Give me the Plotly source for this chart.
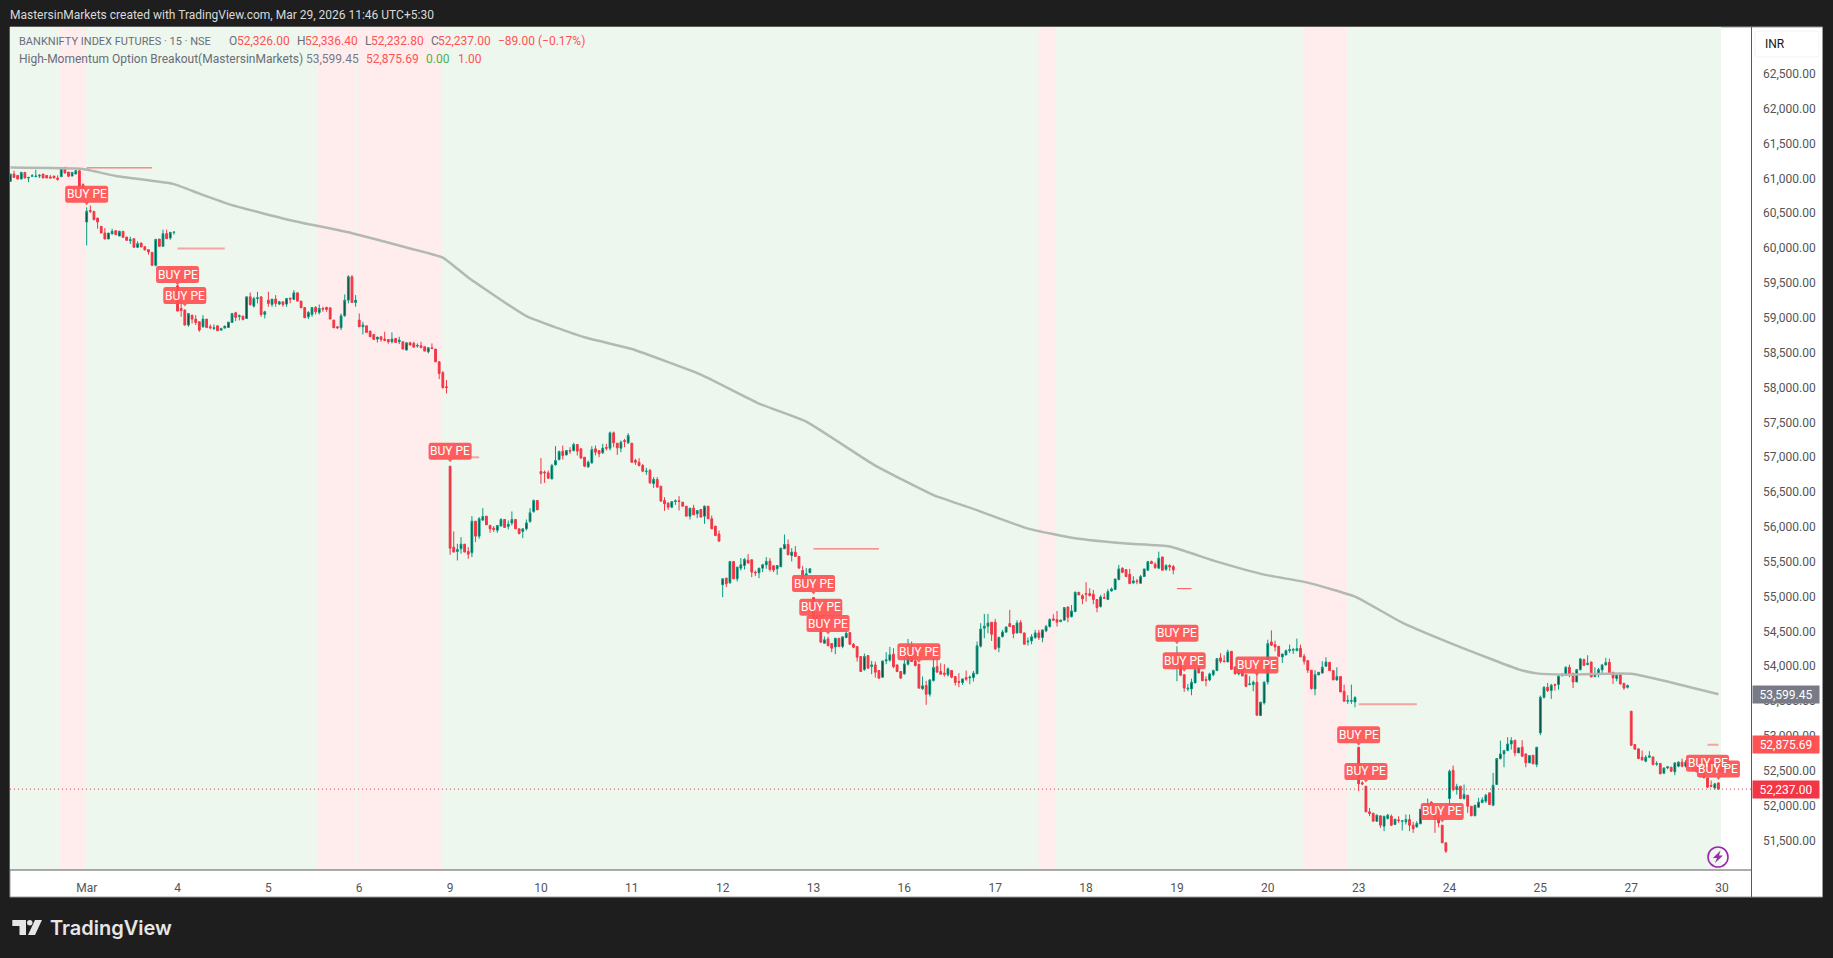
import plotly.graph_objects as go

W, H = 1833, 958

TICK_BARS = [0, 25, 50, 75, 100, 125, 150, 175, 200, 225, 250, 275, 300, 325, 350, 375, 400, 425, 450]
TICK_DAYS = ["Mar", "4", "5", "6", "9", "10", "11", "12", "13", "16", "17", "18", "19", "20", "23", "24", "25", "27", "30"]
PRICE_TICKS = [51500 + 500 * k for k in range(23)]

OPENS = [
60957,61062,61043,60990,61086,61005,61030,61024,61033,61062,61043,61020,61033,61005,61024,61158,61091,61033,61062,61110,60909,
60374,60541,60527,60431,60312,60216,60130,60207,60250,60173,60240,60159,60106,60135,60011,60073,60020,59977,59939,59752,60130,60025,60207,60144,60226,
59459,59134,59110,58895,59038,58981,58943,58871,58981,58871,58847,58885,58823,58852,58861,58933,59072,59019,59024,58990,59301,59167,59277,59301,59048,
59253,59191,59268,59196,59229,59196,59282,59263,59358,59239,59148,59014,59048,59148,59076,59134,59148,59143,58967,58871,58857,59029,59253,59588,59220,
58967,58871,58885,58809,58761,58694,58728,58694,58689,58656,58704,58656,58656,58536,58641,58632,58594,58598,58584,58512,58570,58551,58369,58211,58010,
56871,55709,55647,55686,55752,55647,55628,56082,55867,56097,56154,56020,55982,55953,56011,56106,56006,56054,56106,55972,55934,55972,56078,56221,56379,
56794,56785,56775,56689,56890,56967,57086,57033,57096,57096,57182,57120,57000,56861,56919,57120,57096,57062,57139,57129,57349,57201,57129,57239,57206,
57201,56952,56928,56880,56794,56809,56622,56680,56584,56379,56340,56283,56364,56374,56355,56297,56154,56269,56187,56250,56154,56297,56116,56011,55896,
55169,55265,55198,55504,55255,55408,55446,55523,55528,55351,55341,55408,55456,55509,55442,55399,55427,55686,55748,55590,55638,55576,55375,55303,55341,
54986,54713,54642,54331,54393,54326,54278,54402,54283,54412,54484,54316,54283,54140,53953,54154,53996,54020,53939,53843,54077,54087,54173,54020,53925,
53891,54030,54283,54077,54030,53676,53724,53599,53795,53996,53925,53901,53877,53939,53853,53781,53767,53838,53834,53838,53891,54288,54546,54575,54632,
54632,54269,54426,54489,54613,54584,54479,54627,54479,54350,54364,54412,54479,54412,54508,54570,54680,54670,54642,54661,54852,54713,54785,55062,55014,
55043,55043,55033,54957,54857,54986,54957,55081,55100,55244,55406,55387,55320,55196,55225,55191,55287,55378,55502,55464,55406,55569,55392,55445,55430,
54062,54096,53880,53675,53675,53761,53976,53919,53809,53804,53880,53938,54120,54076,54062,54215,53990,53890,53962,53880,53737,53737,53771,53293,53474,
53775,54349,54311,54287,54134,54163,54225,54230,54225,54258,54143,54081,53943,53675,53876,53904,54000,54057,53938,53804,53852,53642,53498,53498,53488,
52838,52327,52279,51911,51892,51777,51854,51706,51816,51849,51730,51796,51777,51768,51801,51720,51696,51739,52007,51882,52050,51892,51825,51720,51467,
52102,52509,52231,52279,52102,52150,51992,51854,51978,52045,52064,52184,52007,52303,52676,52743,52791,52886,52939,52757,52839,52743,52614,52724,52590,
53044,53555,53699,53651,53737,53737,53871,53880,53986,53900,53775,53952,54096,54024,54062,53852,53880,53947,54019,54057,53914,53823,53881,53756,53699,
53355,52877,52815,52695,52638,52695,52700,52595,52604,52466,52542,52552,52485,52566,52624,52566,52590,52581,52542,52456,52485,52399,52289,52255,52326,
]

HIGHS = [
61062,61110,61043,61086,61086,61014,61062,61124,61062,61062,61043,61048,61038,61043,61139,61158,61091,61086,61120,61110,60930,
60584,60613,60527,60431,60312,60288,60216,60278,60250,60250,60240,60159,60163,60135,60097,60073,60020,59977,59939,60125,60130,60264,60264,60226,60230,
59459,59239,59120,59062,59038,59038,58943,59038,58981,58904,58904,58885,58857,58885,58938,59062,59086,59048,59024,59301,59363,59301,59373,59301,59100,
59373,59268,59325,59244,59229,59277,59287,59397,59358,59239,59148,59096,59148,59167,59191,59158,59158,59143,58967,58880,59062,59335,59612,59612,59325,
59062,58943,58885,58809,58761,58723,58728,58799,58689,58790,58704,58728,58656,58641,58656,58656,58632,58656,58584,58570,58632,58551,58369,58235,58106,
56871,55934,55757,55853,55752,55709,56154,56082,56140,56269,56154,56030,56011,56020,56125,56106,56092,56221,56106,55972,55972,56106,56269,56393,56379,
56986,56809,56809,56904,57158,57096,57167,57096,57143,57206,57182,57120,57000,56952,57158,57167,57096,57191,57191,57368,57368,57201,57239,57263,57344,
57201,56976,56986,56904,56847,56833,56713,56713,56584,56426,56355,56364,56393,56441,56355,56297,56269,56316,56235,56250,56307,56297,56163,56011,55948,
55265,55265,55504,55504,55423,55552,55552,55609,55528,55375,55408,55470,55566,55552,55442,55446,55695,55891,55819,55695,55724,55576,55437,55408,55399,
54986,54785,54642,54426,54426,54326,54402,54402,54426,54508,54484,54331,54283,54140,54183,54154,54077,54068,53939,54077,54202,54278,54259,54020,53925,
54187,54393,54355,54259,54030,53853,53791,53805,54125,54116,54044,54030,53982,53948,53853,53901,53819,53939,53867,53934,54355,54618,54751,54751,54632,
54680,54417,54522,54565,54809,54584,54661,54661,54479,54412,54460,54522,54522,54522,54594,54689,54747,54794,54670,54842,54852,54880,55072,55062,55033,
55206,55120,55096,54957,55024,55048,55105,55129,55253,55454,55420,55387,55397,55292,55253,55311,55397,55511,55516,55492,55645,55569,55464,55464,55454,
54287,54096,53880,53747,53823,53952,54000,53919,53857,53909,53952,54110,54187,54158,54239,54215,53990,53986,54120,53880,53857,53794,53904,53484,53785,
54382,54516,54368,54287,54177,54239,54311,54263,54397,54311,54177,54081,53943,53943,53914,54072,54129,54057,53938,53986,53852,53737,53584,53737,53570,
52838,52351,52279,51968,51892,51873,51854,51849,51882,51873,51806,51849,51782,51873,51873,51768,51777,51949,52040,52102,52064,51892,51921,51720,51467,
52518,52576,52313,52279,52303,52150,51992,52007,52112,52121,52169,52184,52470,52676,52934,52791,52982,52982,52939,52838,52939,52743,52719,52724,52839,
53579,53713,53761,53747,53751,53880,53904,54000,54024,53900,53952,54120,54110,54158,54062,53986,53976,54033,54120,54110,53914,53890,53890,53756,53737,
53355,52877,52815,52791,52724,52781,52700,52638,52614,52542,52566,52552,52614,52638,52676,52657,52624,52581,52542,52552,52485,52399,52361,52327,52336.4,
]

LOWS = [
60957,61014,60990,60990,61005,60947,61024,61024,61005,61005,61005,61005,61005,60967,61024,61076,61029,61033,61062,60885,60861,
60039,60503,60407,60278,60216,60130,60130,60192,60192,60173,60154,60111,60058,60011,60001,60015,59972,59905,59752,59738,60025,60025,60135,60120,60192,
59096,59014,58895,58871,58919,58895,58799,58857,58861,58837,58823,58814,58814,58847,58861,58933,58952,58962,58962,58990,59172,59148,59206,59014,58990,
59158,59158,59158,59182,59158,59158,59206,59263,59239,59143,59000,58981,59014,59048,59048,59086,59086,58981,58857,58837,58823,59014,59206,59220,59158,
58871,58761,58790,58728,58689,58646,58656,58665,58627,58632,58646,58622,58551,58536,58608,58570,58570,58560,58522,58489,58550,58369,58120,57987,57915,
55600,55638,55518,55614,55638,55542,55566,55781,55829,56082,56030,55915,55925,55915,56011,55991,55963,56020,55972,55901,55838,55948,56058,56202,56245,
56618,56632,56689,56680,56880,56952,56967,57024,57048,57081,57024,56986,56857,56847,56904,57024,57000,57048,57096,57096,57143,57033,57072,57143,57191,
56919,56890,56866,56785,56747,56618,56560,56570,56369,56230,56245,56269,56316,56235,56297,56154,56106,56173,56125,56140,56044,56116,55972,55867,55795,
54992,55136,55184,55255,55217,55375,55389,55480,55279,55294,55265,55351,55399,55360,55351,55313,55427,55686,55599,55504,55576,55408,55207,55184,55341,
54689,54642,54345,54331,54283,54202,54173,54283,54259,54402,54316,54259,54068,53925,53934,53972,53886,53838,53829,53838,54030,54068,53972,53915,53829,
53877,54011,54068,53996,53686,53662,53447,53566,53781,53915,53886,53853,53853,53829,53724,53700,53733,53791,53743,53781,53891,54269,54402,54474,54364,
54235,54202,54412,54489,54570,54402,54469,54479,54316,54297,54316,54393,54379,54345,54489,54555,54651,54570,54632,54661,54632,54699,54775,55024,54890,
54928,55000,54890,54775,54842,54971,54957,55072,55100,55234,55335,55287,55186,55186,55177,55186,55287,55368,55473,55397,55406,55378,55368,55368,55320,
53785,53871,53632,53642,53584,53761,53904,53785,53713,53785,53857,53938,54043,54057,54062,53957,53890,53871,53861,53699,53728,53642,53297,53293,53450,
53737,54296,54215,54143,54048,54158,54191,54177,54215,54134,54024,53904,53665,53584,53876,53890,53995,53938,53804,53794,53632,53498,53460,53460,53412,
52208,52293,51911,51849,51777,51768,51682,51635,51801,51706,51730,51753,51644,51730,51634,51610,51682,51739,51873,51873,51921,51610,51691,51467,51323,
51992,52207,52160,52102,52088,51897,51854,51854,51968,52035,52040,52016,51992,52303,52662,52552,52781,52805,52709,52757,52709,52552,52614,52599,52552,
53011,53536,53632,53532,53651,53665,53852,53871,53842,53689,53775,53938,54000,54014,53847,53842,53842,53890,54014,53900,53747,53785,53737,53661,53680,
52858,52810,52666,52647,52623,52686,52580,52571,52456,52456,52523,52485,52437,52552,52552,52547,52552,52504,52485,52408,52399,52255,52265,52231,52232.8,
]

CLOSES = [
61062,61014,60990,61086,61005,61014,61038,61033,61043,61005,61005,61005,61005,60986,61139,61076,61029,61086,61110,60885,60861,
60527,60527,60407,60374,60216,60130,60216,60240,60192,60240,60154,60111,60120,60011,60063,60015,59972,59944,59752,60125,60025,60207,60135,60226,60230,
59096,59105,58895,59062,58981,58933,58823,58981,58861,58857,58857,58814,58847,58881,58938,59062,59005,59029,58976,59301,59191,59277,59287,59048,59086,
59206,59268,59206,59229,59191,59277,59268,59358,59239,59143,59000,59076,59148,59086,59134,59124,59120,58981,58857,58857,59029,59253,59588,59220,59253,
58871,58895,58790,58728,58689,58723,58689,58675,58656,58694,58646,58680,58551,58641,58608,58579,58603,58575,58522,58570,58560,58369,58202,57996,58000,
55695,55638,55676,55752,55638,55609,56082,55867,56116,56149,56030,55972,55963,56020,56106,55991,56039,56106,55972,55901,55972,56058,56202,56379,56245,
56761,56775,56699,56880,56952,57081,57024,57096,57086,57182,57086,56986,56871,56928,57110,57072,57048,57129,57129,57349,57206,57134,57215,57225,57311,
56928,56928,56880,56799,56799,56632,56680,56570,56369,56331,56283,56364,56374,56364,56297,56154,56269,56173,56235,56140,56297,56116,55972,55877,55795,
55255,55184,55504,55255,55423,55456,55533,55480,55351,55341,55408,55456,55504,55389,55380,55446,55695,55748,55599,55638,55576,55408,55255,55327,55399,
54689,54642,54345,54379,54297,54259,54402,54283,54422,54474,54316,54273,54130,53925,54140,53972,54020,53915,53829,54077,54092,54164,53996,53925,53829,
54034,54283,54068,54011,53686,53719,53599,53805,53982,53915,53886,53886,53963,53843,53767,53771,53819,53815,53843,53901,54293,54536,54575,54622,54460,
54250,54417,54493,54565,54570,54469,54622,54479,54316,54360,54422,54479,54412,54522,54570,54670,54661,54632,54661,54842,54704,54794,55062,55024,54967,
55033,55014,54957,54842,54995,54976,55072,55110,55253,55397,55349,55287,55186,55225,55215,55287,55397,55502,55473,55416,55550,55378,55445,55425,55382,
54081,53871,53689,53685,53771,53952,53904,53794,53799,53890,53938,54110,54072,54067,54206,53957,53890,53962,53861,53713,53747,53771,53297,53484,53771,
54325,54301,54277,54143,54177,54225,54239,54239,54253,54134,54072,53943,53680,53880,53914,53986,54062,53938,53804,53852,53632,53498,53508,53508,53551,
52313,52313,51911,51887,51777,51863,51720,51849,51863,51720,51806,51787,51782,51801,51720,51668,51744,51949,51873,52016,51921,51825,51753,51467,51347,
52494,52231,52274,52102,52160,51992,51854,52007,52050,52083,52150,52016,52293,52676,52743,52791,52886,52934,52757,52829,52709,52614,52719,52599,52839,
53555,53699,53651,53728,53728,53857,53881,53986,53890,53775,53952,54105,54014,54043,53847,53890,53952,54019,54053,53900,53833,53871,53747,53689,53723,
52867,52810,52676,52657,52695,52714,52590,52604,52456,52542,52557,52494,52614,52624,52566,52624,52566,52504,52485,52494,52399,52265,52279,52313,52237,
]

FIRST_BAR = -21
N_BARS = len(CLOSES)
assert len(OPENS) == N_BARS and len(HIGHS) == N_BARS and len(LOWS) == N_BARS and N_BARS == 471
BARS = [FIRST_BAR + k for k in range(N_BARS)]

SMA_BARS = [-21, -1, 8, 24, 31, 40, 56, 73, 89, 98, 105, 121, 137, 150, 169, 185, 198, 217, 233, 243, 259, 272, 286, 298, 311, 324, 336, 349, 362, 378, 394, 399, 407, 425, 449]
SMA_VALUES = [61155, 61134, 61034, 60918, 60782, 60616, 60400, 60214, 59995, 59864, 59577, 59023, 58720, 58552, 58185, 57769, 57510, 56879, 56456, 56276, 55975, 55836, 55760, 55717, 55501, 55315, 55200, 54999, 54626, 54274, 53956, 53898, 53880, 53894, 53599.45]

LEVEL_STARTS = [0, 25, 100, 200, 300, 350, 446]
LEVEL_ENDS = [18, 38, 108, 218, 304, 366, 449]
LEVEL_PRICES = [61151, 59993, 56998, 55684, 55114, 53454, 52875.69]
LEVEL_WIDTHS = [1, 2, 2, 1, 1, 2, 2]

SIGNAL_BARS = [0, 25, 27, 100, 200, 202, 204, 229, 300, 302, 322, 350, 352, 373, 446, 449]
SIGNAL_PRICES = [60772, 59620, 59318, 57084, 55186, 54846, 54612, 54210, 54472, 54081, 54019, 53019, 52492, 51918, 52607, 52527]

PINK_STARTS = [-7.35, 63.65, 74.65, 261.9, 334.7]
PINK_ENDS = [-0.2, 73.8, 97.8, 266.6, 346.8]
GREEN_SPAN = [-21.1, 449.7]

SMA_LAST, SIGNAL_LAST, LAST_CLOSE = 53599.45, 52875.69, 52237.0

X_RANGE = [-21.1, 458.1]
Y_RANGE = [51077, 63172]
GREEN, RED, LBL = "#089981", "#f23645", "#ff5252"


def X(p):
    return p / W


def Y(p):
    return 1 - p / H


def rect(x0, y0, x1, y1, **kw):
    return dict(type="rect", xref="paper", yref="paper", x0=X(x0), x1=X(x1), y0=Y(y0), y1=Y(y1), **kw)


def ptext(x, y, text, color, size=12, anchor="left", font="Roboto", weight="normal"):
    return dict(xref="paper", yref="paper", x=X(x), y=Y(y), text=text, showarrow=False, xanchor=anchor,
                yanchor="middle", font=dict(color=color, size=size, family=font, weight=weight), borderpad=0)


def ppath(points):
    return "M " + " L ".join(f"{X(a):.5f},{Y(b):.5f}" for a, b in points) + " Z"


fig = go.Figure()
fig.add_trace(go.Scatter(x=SMA_BARS, y=SMA_VALUES, mode="lines", line=dict(color="#b4b8b5", width=2.5, shape="spline", smoothing=0.4), hoverinfo="skip"))
for a, b, p, w in zip(LEVEL_STARTS, LEVEL_ENDS, LEVEL_PRICES, LEVEL_WIDTHS):
    col = "#ff5252" if w == 1 else "rgba(255,82,82,0.5)"
    fig.add_trace(go.Scatter(x=[a, b], y=[p, p], mode="lines", line=dict(color=col, width=w), hoverinfo="skip"))
fig.add_trace(go.Candlestick(
    x=BARS, open=OPENS, high=HIGHS, low=LOWS, close=CLOSES, whiskerwidth=0,
    increasing=dict(line=dict(color=GREEN, width=1), fillcolor="#0d3d35"),
    decreasing=dict(line=dict(color=RED, width=1), fillcolor=RED), hoverinfo="skip"))

shapes = [rect(10, 27, 1822.5, 897, fillcolor="#ffffff", line=dict(color="#9a9a9a", width=1), layer="below")]
shapes.append(dict(type="rect", xref="x", yref="paper", x0=GREEN_SPAN[0], x1=GREEN_SPAN[1], y0=Y(870), y1=Y(27),
                   fillcolor="#edf7ee", line_width=0, layer="below"))
for a, b in zip(PINK_STARTS, PINK_ENDS):
    shapes.append(dict(type="rect", xref="x", yref="paper", x0=a, x1=b, y0=Y(870), y1=Y(27),
                       fillcolor="#ffeded", line_width=0, layer="below"))
for a, b, c, d in [(10, 870, 1751.5, 870), (1751.5, 27, 1751.5, 897)]:
    shapes.append(dict(type="line", xref="paper", yref="paper", x0=X(a), x1=X(c), y0=Y(b), y1=Y(d),
                       line=dict(color="#5a5a5a", width=1)))
shapes.append(dict(type="line", xref="paper", yref="y", x0=X(10), x1=X(1751.5), y0=LAST_CLOSE, y1=LAST_CLOSE,
                   line=dict(color=RED, width=1, dash="1px,3px")))
shapes.append(dict(type="path", xref="paper", yref="paper",
                   path="M %f,%f Q %f,%f %f,%f L %f,%f Q %f,%f %f,%f L %f,%f Q %f,%f %f,%f L %f,%f Q %f,%f %f,%f Z" % (
                       X(1758), Y(31), X(1755), Y(31), X(1755), Y(34), X(1755), Y(54), X(1755), Y(57), X(1758), Y(57),
                       X(1816), Y(57), X(1819), Y(57), X(1819), Y(54), X(1819), Y(34), X(1819), Y(31), X(1816), Y(31)),
                   fillcolor="#ffffff", line=dict(color="#f0f3fa", width=1)))

LABEL_PATH = ("M -19,8.5 L 19,8.5 Q 21.5,8.5 21.5,6 L 21.5,-6 Q 21.5,-8.5 19,-8.5 L 2,-8.5 L 0,-11 L -2,-8.5 "
              "L -19,-8.5 Q -21.5,-8.5 -21.5,-6 L -21.5,6 Q -21.5,8.5 -19,8.5 Z")
for bar, price in zip(SIGNAL_BARS, SIGNAL_PRICES):
    shapes.append(dict(type="path", xref="x", yref="y", xsizemode="pixel", ysizemode="pixel", xanchor=bar, yanchor=price,
                       path=LABEL_PATH, fillcolor="rgba(255,82,82,0.93)", line_width=0, layer="above"))

# bolt badge
shapes.append(dict(type="circle", xref="paper", yref="paper", x0=X(1708), x1=X(1728), y0=Y(867), y1=Y(847),
                   line=dict(color="#9c27b0", width=1.6)))
shapes.append(dict(type="path", xref="paper", yref="paper", fillcolor="#9c27b0", line_width=0,
                   path=ppath([(1720.5, 850.5), (1713, 858), (1717, 858), (1715, 863), (1723, 855.5), (1719, 855.5)])))
# logo
shapes.append(dict(type="path", xref="paper", yref="paper", fillcolor="#e6e6e6", line_width=0,
                   path=ppath([(12.3, 920), (26, 920), (26, 935), (19.5, 935), (19.5, 926), (12.3, 926)])))
shapes.append(dict(type="circle", xref="paper", yref="paper", x0=X(27), x1=X(32.5), y0=Y(925.5), y1=Y(920),
                   fillcolor="#e6e6e6", line_width=0))
shapes.append(dict(type="path", xref="paper", yref="paper", fillcolor="#e6e6e6", line_width=0,
                   path=ppath([(35, 920), (42, 920), (35, 935), (28, 935)])))

ann = [ptext(8.5, 15, "MastersinMarkets created with TradingView.com, Mar 29, 2026 11:46 UTC+5:30", "#d9d9d9"),
       ptext(49, 928, "TradingView", "#e6e6e6", size=20, font="Inter", weight=600)]
GREY, DIM = "#6a6d78", "#787b86"
ann.append(ptext(18, 41.5, "BANKNIFTY INDEX FUTURES · 15 · NSE", GREY, size=11))
for x, y, t, c in [(227.5, 41.5, "O", GREY),
                   (235.5, 41.5, "52,326.00", LBL), (295.5, 41.5, "H", GREY), (303.5, 41.5, "52,336.40", LBL),
                   (363.5, 41.5, "L", GREY), (369.5, 41.5, "52,232.80", LBL), (429.5, 41.5, "C", GREY),
                   (437, 41.5, "52,237.00", LBL), (497, 41.5, "−89.00 (−0.17%)", LBL),
                   (18, 59, "High-Momentum Option Breakout(MastersinMarkets)", GREY), (305, 59, "53,599.45", DIM),
                   (365, 59, "52,875.69", LBL), (425, 59, "0.00", "#4caf50"), (456.5, 59, "1.00", LBL)]:
    ann.append(ptext(x, y, t, c))
ann.append(ptext(1764, 44, "INR", "#131722", size=12))
for bar, price in zip(SIGNAL_BARS, SIGNAL_PRICES):
    ann.append(dict(xref="x", yref="y", x=bar, y=price, text="BUY PE", showarrow=False, xanchor="center", yanchor="middle",
                    font=dict(color="#ffffff", size=12, family="Roboto"), borderpad=0))
for price, col in [(SMA_LAST, "#787b86"), (SIGNAL_LAST, LBL), (LAST_CLOSE, RED)]:
    ann.append(dict(xref="paper", yref="y", x=X(1752), y=price, text=f"{price:,.2f}", showarrow=False, xanchor="left",
                    yanchor="middle", width=66, height=17, align="center", valign="middle", bgcolor=col, borderpad=0,
                    font=dict(color="#ffffff", size=12, family="Roboto")))

fig.update_layout(
    width=W, height=H, showlegend=False, paper_bgcolor="#1e1e1e", plot_bgcolor="rgba(0,0,0,0)",
    margin=dict(l=0, r=0, t=0, b=0), shapes=shapes, annotations=ann, dragmode=False,
    font=dict(family="Roboto", size=12, color="#555555"),
    xaxis=dict(domain=[X(10), X(1751.5)], range=X_RANGE, rangeslider=dict(visible=False), showgrid=False, zeroline=False,
               tickmode="array", tickvals=TICK_BARS, ticktext=TICK_DAYS, ticks="outside", ticklen=7,
               tickcolor="rgba(0,0,0,0)", showline=False, tickfont=dict(size=12, color="#555555")),
    yaxis=dict(domain=[Y(870), Y(27)], range=Y_RANGE, side="right", showgrid=False, zeroline=False, tickmode="array",
               tickvals=PRICE_TICKS, ticktext=[f"{v:,.2f}" for v in PRICE_TICKS], ticks="outside", ticklen=8,
               tickcolor="rgba(0,0,0,0)", showline=False, tickfont=dict(size=12, color="#555555")),
)
fig.write_html("out.html", config=dict(displayModeBar=False),
               post_script="document.body.style.margin='0';document.body.style.overflow='hidden';document.body.style.background='#1e1e1e';")
